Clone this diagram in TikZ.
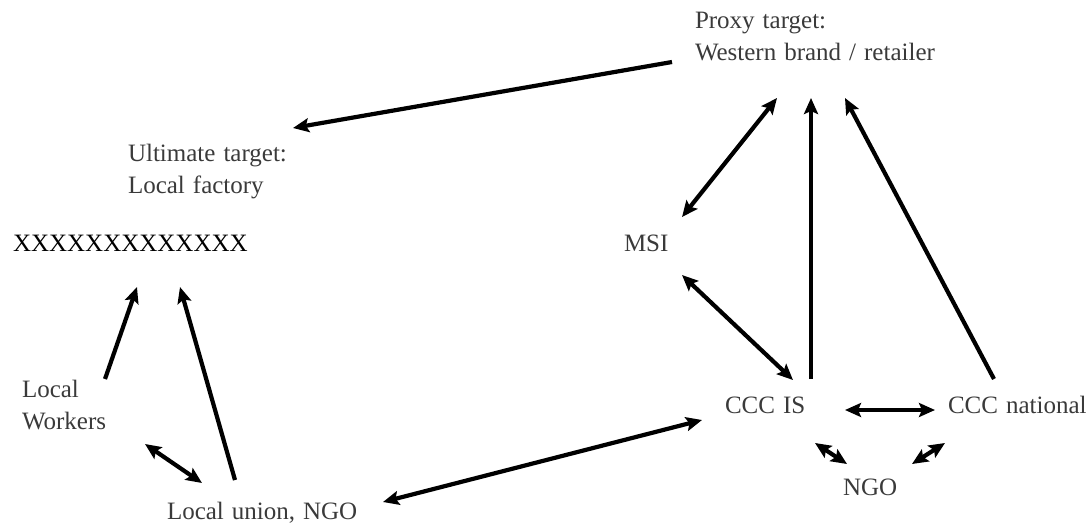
\documentclass[tikz,border=0pt]{standalone}
\usepackage{fontspec}
\setmainfont{Liberation Serif}
\usetikzlibrary{arrows.meta}
\definecolor{txtgray}{HTML}{3A3A3A}
\newcommand\mylblfont{\fontsize{25}{32}\selectfont\spaceskip=0.32em\relax}
\begin{document}
\begin{tikzpicture}[x=1pt,y=-1pt,
  lbl/.style={inner sep=0pt,outer sep=0pt,text=txtgray,font=\mylblfont,align=left},
  arr/.style={line width=4.2pt,-{Stealth[length=16pt,width=14pt,inset=3pt]}},
  barr/.style={line width=4.2pt,{Stealth[length=16pt,width=14pt,inset=3pt]}-{Stealth[length=16pt,width=14pt,inset=3pt]}}]
\useasboundingbox (0,0) rectangle (1092,525);
% nodes
\node[lbl,anchor=north west] (proxy) at (695,12) {Proxy target:\\Western brand / retailer};
\node[lbl,anchor=north west] (ultimate) at (128,144) {Ultimate target:\\Local factory};
\node[lbl,anchor=north west] (workers) at (22,380) {Local\\Workers};
\node[lbl,anchor=base west,text=black] (xxx) at (13,251) {XXXXXXXXXXXXX};
\node[lbl,anchor=base west] (msi) at (624,251) {MSI};
\node[lbl,anchor=base west] (union) at (167,519) {Local union, NGO};
\node[lbl,anchor=base west] (cccis) at (725,413) {CCC IS};
\node[lbl,anchor=base west] (cccnat) at (948,413) {CCC national};
\node[lbl,anchor=base west] (ngo) at (843,495) {NGO};
% connectors
\draw[arr] ([shift={(-23,50)}]proxy.north west) -- ([shift={(165,-16)}]ultimate.north west);
\draw[barr] ([shift={(58,-34)}]msi.base west) -- ([shift={(82,86)}]proxy.north west);
\draw[arr] ([shift={(86,-34)}]cccis.base west) -- ([shift={(116,86)}]proxy.north west);
\draw[arr] ([shift={(46,-34)}]cccnat.base west) -- ([shift={(150,86)}]proxy.north west);
\draw[barr] ([shift={(58,24)}]msi.base west) -- ([shift={(68,-33)}]cccis.base west);
\draw[barr] ([shift={(120,-3)}]cccis.base west) -- ([shift={(-13,-3)}]cccnat.base west);
\draw[barr] ([shift={(90,30)}]cccis.base west) -- ([shift={(4,-31)}]ngo.base west);
\draw[barr] ([shift={(-3,30)}]cccnat.base west) -- ([shift={(69,-31)}]ngo.base west);
\draw[barr] ([shift={(216,-17)}]union.base west) -- ([shift={(-23,7)}]cccis.base west);
\draw[arr] ([shift={(83,-1)}]workers.north west) -- ([shift={(124,36)}]xxx.base west);
\draw[arr] ([shift={(68,-39)}]union.base west) -- ([shift={(167,36)}]xxx.base west);
\draw[barr] ([shift={(123,64)}]workers.north west) -- ([shift={(35,-36)}]union.base west);
\end{tikzpicture}
\end{document}
